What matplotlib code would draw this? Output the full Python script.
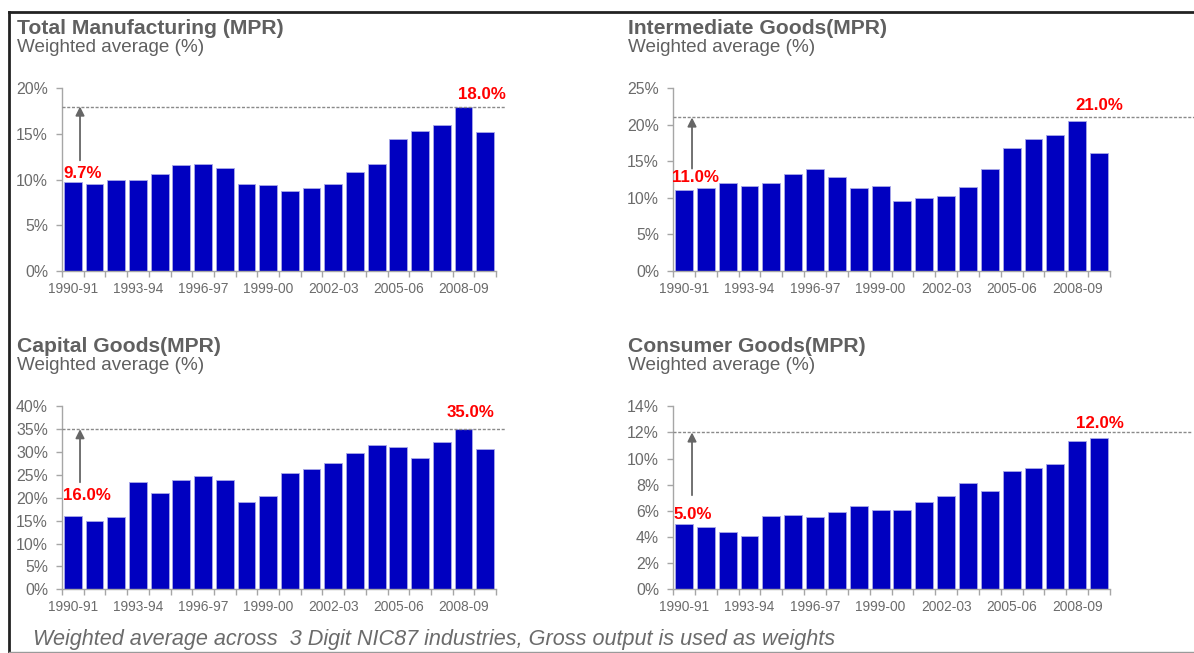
import matplotlib
matplotlib.use("Agg")
import matplotlib.pyplot as plt
from matplotlib.lines import Line2D
from matplotlib.ticker import FuncFormatter, FixedLocator

plt.rcParams["font.family"] = ["Liberation Sans", "DejaVu Sans"]

# ---- data -------------------------------------------------------------
years = [f"{y}-{str(y + 1)[-2:]}" for y in range(1990, 2010)]
years[9] = "1999-00"
tick_labels = ["1990-91", "1993-94", "1996-97", "1999-00", "2002-03", "2005-06", "2008-09"]

total_mfg = [9.7, 9.5, 9.9, 10.0, 10.6, 11.6, 11.7, 11.3, 9.5, 9.4,
             8.7, 9.1, 9.5, 10.8, 11.7, 14.4, 15.3, 16.0, 18.0, 15.2]
intermediate = [11.0, 11.3, 12.0, 11.6, 12.0, 13.2, 13.9, 12.8, 11.3, 11.6,
                9.6, 10.0, 10.3, 11.5, 14.0, 16.8, 18.1, 18.6, 20.5, 16.2]
capital = [16.0, 15.0, 15.8, 23.5, 21.1, 24.0, 24.8, 24.0, 19.0, 20.3,
           25.4, 26.4, 27.5, 29.9, 31.5, 31.2, 28.6, 32.3, 35.0, 30.7]
consumer = [5.0, 4.8, 4.4, 4.05, 5.6, 5.7, 5.5, 5.9, 6.35, 6.1,
            6.1, 6.65, 7.1, 8.1, 7.55, 9.05, 9.25, 9.6, 11.35, 11.55]

titles = ["Total Manufacturing (MPR)", "Intermediate Goods(MPR)",
          "Capital Goods(MPR)", "Consumer Goods(MPR)"]
series = [total_mfg, intermediate, capital, consumer]
start_values = [9.7, 11.0, 16.0, 5.0]
peak_values = [18.0, 21.0, 35.0, 12.0]
y_max = [20, 25, 40, 14]
y_step = [5, 5, 5, 2]

# ---- layout ----------------------------------------------------------
W, H = 1194, 653
fig = plt.figure(figsize=(W / 100, H / 100), dpi=100)

# axes boxes in pixels: left, right, top, bottom
boxes = [(62, 496, 88.3, 270.7), (673, 1110, 88.3, 270.7),
         (62, 496, 406.3, 589.3), (673, 1110, 406.3, 589.3)]
title_xy = [(17, 28), (628, 28), (17, 346), (628, 346)]
# arrow x position and its tail value, start label anchor, peak label anchor
arrow_x = [0.33, 0.37, 0.33, 0.37]
arrow_tail = [12.1, 14.0, 23.4, 7.2]
start_lbl = [(-0.42, 10.7), (-0.55, 12.8), (-0.44, 20.6), (-0.47, 5.7)]
peak_lbl = [(17.75, 19.35), (17.93, 22.7), (17.23, 38.7), (17.93, 12.7)]
dash_end = [19.9, 23.5, 19.9, 23.2]

BAR = "#0000C0"
GREY_TXT = "#6B6B6B"
AXIS = "#A6A6A6"
RED = "#FF0000"

for i in range(4):
    l, r, t, b = boxes[i]
    ax = fig.add_axes([l / W, 1 - b / H, (r - l) / W, (b - t) / H])
    vals = series[i]
    x = list(range(len(vals)))
    ax.bar(x, vals, width=0.82, color=BAR, edgecolor="#A8A8E8", linewidth=0.6, zorder=2)

    ax.set_xlim(-0.5, len(vals) - 0.5)
    ax.set_ylim(0, y_max[i])
    for s in ["top", "right"]:
        ax.spines[s].set_visible(False)
    for s in ["left", "bottom"]:
        ax.spines[s].set_color(AXIS)
        ax.spines[s].set_linewidth(1.0)

    ax.yaxis.set_major_locator(FixedLocator(list(range(0, y_max[i] + 1, y_step[i]))))
    ax.yaxis.set_major_formatter(FuncFormatter(lambda v, p: f"{v:.0f}%"))
    ax.tick_params(axis="y", direction="out", length=4, width=1, color=AXIS,
                   labelsize=11.4, labelcolor=GREY_TXT, pad=6)

    ax.xaxis.set_major_locator(FixedLocator([years.index(lb) for lb in tick_labels]))
    ax.set_xticklabels(tick_labels)
    ax.xaxis.set_minor_locator(FixedLocator([k - 0.5 for k in range(len(vals) + 1)]))
    ax.tick_params(axis="x", which="major", length=0, labelsize=9.9,
                   labelcolor=GREY_TXT, pad=8)
    ax.tick_params(axis="x", which="minor", direction="out", length=4, width=1, color=AXIS)

    # reference level for the peak
    ax.plot([-0.5, dash_end[i]], [peak_values[i]] * 2, color="#8A8A8A",
            linestyle=(0, (2.2, 1.2)), linewidth=1.0, clip_on=False, zorder=3)
    # arrow from the starting level up to the peak
    ax.annotate("", xy=(arrow_x[i], peak_values[i]), xytext=(arrow_x[i], arrow_tail[i]),
                arrowprops=dict(arrowstyle="-|>", color="#666666", lw=1.3,
                                mutation_scale=13, shrinkA=0, shrinkB=0),
                zorder=4)

    ax.text(start_lbl[i][0], start_lbl[i][1], f"{start_values[i]:.1f}%", color=RED,
            fontsize=12.2, fontweight="bold", ha="left", va="center", zorder=5)
    ax.text(peak_lbl[i][0], peak_lbl[i][1], f"{peak_values[i]:.1f}%", color=RED,
            fontsize=12.2, fontweight="bold", ha="left", va="center", zorder=5,
            clip_on=False)

    tx, ty = title_xy[i]
    fig.text(tx / W, 1 - ty / H, titles[i], fontsize=15.2, fontweight="bold",
             color="#606060", ha="left", va="center")
    fig.text(tx / W, 1 - (ty + 20) / H, "Weighted average (%)", fontsize=13.6,
             color="#606060", ha="left", va="center")

# footnote
fig.text(33 / W, 1 - 640 / H,
         "Weighted average across  3 Digit NIC87 industries, Gross output is used as weights",
         fontsize=15.6, style="italic", color="#6B6B6B", ha="left", va="center")

# frame around the panels
fig.add_artist(Line2D([9 / W, 1.0], [1 - 12 / H] * 2, color="#222222", lw=2,
                      transform=fig.transFigure))
fig.add_artist(Line2D([9 / W] * 2, [1 - 12 / H, 0.0], color="#222222", lw=2,
                      transform=fig.transFigure))
fig.add_artist(Line2D([9 / W, 1.0], [1 - 651.5 / H] * 2, color="#9A9A9A", lw=1,
                      transform=fig.transFigure))

fig.savefig("out.png", dpi=100)
